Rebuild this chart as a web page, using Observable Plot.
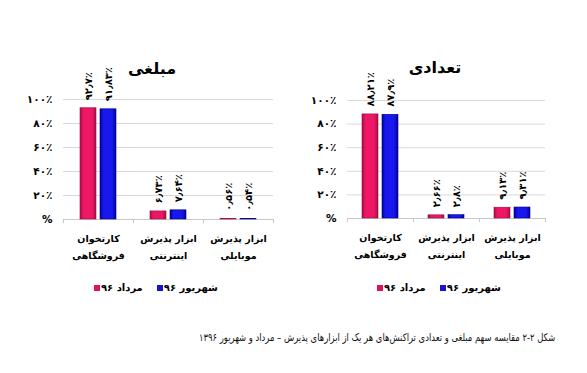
<!DOCTYPE html>
<html>
<head>
<meta charset="utf-8">
<script src="https://cdn.jsdelivr.net/npm/d3@7"></script>
<script src="https://cdn.jsdelivr.net/npm/@observablehq/plot@0.6"></script>
<style>
  body { margin: 0; background: #fff; font-family: "DejaVu Sans", sans-serif; }
  #wrap { position: relative; width: 587px; height: 373px; overflow: hidden; background: #fff; }
  .panel { position: absolute; top: 0; }
  .title { position: absolute; font-weight: bold; font-size: 16px; transform: translateX(-50%); white-space: nowrap; color: #000; direction: rtl; }
  .legend { position: absolute; display: flex; align-items: center; font-size: 10px; font-weight: bold; color: #000; white-space: nowrap; }
  .legend .sw { width: 6px; height: 6px; margin-right: 1px; }
  .legend .item { display: flex; align-items: center; margin-right: 14px; }
  .caption { position: absolute; top: 331px; right: 32px; font-size: 10.5px; direction: rtl; white-space: nowrap; color: #111; transform: scaleX(0.8); transform-origin: right center; }
</style>
</head>
<body>
<div id="wrap"></div>
<script>
// ---- data ----
const categories = ["کارتخوان فروشگاهی", "ابزار پذیرش اینترنتی", "ابزار پذیرش موبایلی"];
const categoryLines = ["کارتخوان\nفروشگاهی", "ابزار پذیرش\nاینترنتی", "ابزار پذیرش\nموبایلی"];
const series = ["مرداد ۹۶", "شهریور ۹۶"];
const seriesColors = ["#E0115F", "#1414D2"];
const amountMordad = [92.7, 6.73, 0.56];
const amountShahrivar = [91.83, 7.64, 0.54];
const countMordad = [88.21, 2.66, 9.13];
const countShahrivar = [87.9, 2.8, 9.31];
const yTicks = [0, 20, 40, 60, 80, 100];
const panelTitles = ["مبلغی", "تعدادی"];
const captionText = "شکل ۲-۲ مقایسه سهم مبلغی و تعدادی تراکنش‌های هر یک از ابزارهای پذیرش – مرداد و شهریور ۱۳۹۶";

// ---- helpers ----
const faDigits = "۰۱۲۳۴۵۶۷۸۹";
const toFa = v => String(v).replace(/\d/g, d => faDigits[d]).replace(".", "٫");
const valueFmt = v => toFa(v) + "٪";
const yFmt = v => v === 0 ? "%" : toFa(v) + "٪";
const lineOf = c => categoryLines[categories.indexOf(c)];

function gradientDefs(id) {
  return () => {
    const ns = "http://www.w3.org/2000/svg";
    const defs = document.createElementNS(ns, "defs");
    defs.innerHTML = `
      <linearGradient id="${id}p" x1="0" x2="1" y1="0" y2="0">
        <stop offset="0" stop-color="#A80C45"/><stop offset="0.22" stop-color="#EE1766"/>
        <stop offset="0.75" stop-color="#EE1766"/><stop offset="1" stop-color="#A80C45"/>
      </linearGradient>
      <linearGradient id="${id}b" x1="0" x2="1" y1="0" y2="0">
        <stop offset="0" stop-color="#00009A"/><stop offset="0.22" stop-color="#1818EE"/>
        <stop offset="0.75" stop-color="#1818EE"/><stop offset="1" stop-color="#00009A"/>
      </linearGradient>`;
    return defs;
  };
}

function panel({id, first, second, width, ml, mr, mt, mb, height}) {
  const d0 = categories.map((c, i) => ({cat: c, v: first[i]}));
  const d1 = categories.map((c, i) => ({cat: c, v: second[i]}));
  const bw = (width - ml - mr) / categories.length;
  const inset = (bw - 16) / 2;
  const off = 10;
  const labelOpts = {x: "cat", y: "v", text: d => valueFmt(d.v), rotate: -90, textAnchor: "start", dy: -8, fontWeight: "bold", fontSize: 10, fill: "#000"};
  return Plot.plot({
    width, height,
    marginLeft: ml, marginRight: mr, marginTop: mt, marginBottom: mb,
    style: {fontFamily: "DejaVu Sans, sans-serif", fontSize: "10.5px", fontWeight: "bold", color: "#000", background: "transparent"},
    x: {domain: categories, padding: 0, round: false, label: null},
    y: {domain: [0, 100], label: null},
    marks: [
      gradientDefs(id),
      Plot.gridY(yTicks, {stroke: "#d9d9d9", strokeOpacity: 1}),
      Plot.ruleY([0], {stroke: "#c8c8c8"}),
      Plot.ruleX(categories, {x: d => d, y1: 0, y2: -3.5, dx: -bw / 2, stroke: "#c8c8c8"}),
      Plot.ruleX(categories.slice(-1), {x: d => d, y1: 0, y2: -3.5, dx: bw / 2, stroke: "#c8c8c8"}),
      Plot.barY(d0, {x: "cat", y: "v", fill: `url(#${id}p)`, stroke: "#9A0A3E", strokeWidth: 0.6, insetLeft: inset, insetRight: inset, dx: -off}),
      Plot.barY(d1, {x: "cat", y: "v", fill: `url(#${id}b)`, stroke: "#000088", strokeWidth: 0.6, insetLeft: inset, insetRight: inset, dx: off}),
      Plot.text(d0, {...labelOpts, dx: -off}),
      Plot.text(d1, {...labelOpts, dx: off}),
      Plot.axisY(yTicks, {tickSize: 0, tickPadding: 11, tickFormat: yFmt, fontSize: 10.5, fontWeight: "bold", label: null}),
      Plot.axisX({tickSize: 0, tickPadding: 11, tickFormat: lineOf, lineHeight: 1.75, fontSize: 9.5, fontWeight: "bold", label: null})
    ]
  });
}

const wrap = document.getElementById("wrap");

const p1 = panel({id: "a", first: amountMordad, second: amountShahrivar, width: 293, ml: 63, mr: 20, mt: 99, mb: 51, height: 270});
p1.classList.add("panel"); p1.style.left = "0px";
wrap.appendChild(p1);

const p2 = panel({id: "c", first: countMordad, second: countShahrivar, width: 297, ml: 57, mr: 42, mt: 100, mb: 52, height: 270});
p2.classList.add("panel"); p2.style.left = "290px";
wrap.appendChild(p2);

// titles
[[panelTitles[0], 152, 59], [panelTitles[1], 435, 58]].forEach(([t, x, y]) => {
  const el = document.createElement("div");
  el.className = "title"; el.textContent = t;
  el.style.left = x + "px"; el.style.top = y + "px";
  wrap.appendChild(el);
});

// legends
[[94, 282], [377, 282]].forEach(([x, y]) => {
  const lg = document.createElement("div");
  lg.className = "legend";
  lg.style.left = x + "px"; lg.style.top = y + "px";
  series.forEach((s, i) => {
    const it = document.createElement("div"); it.className = "item";
    const sw = document.createElement("div"); sw.className = "sw"; sw.style.background = seriesColors[i];
    const tx = document.createElement("span"); tx.textContent = s; tx.dir = "rtl";
    it.appendChild(sw); it.appendChild(tx); lg.appendChild(it);
  });
  wrap.appendChild(lg);
});

// caption
const cap = document.createElement("div");
cap.className = "caption"; cap.textContent = captionText;
wrap.appendChild(cap);
</script>
</body>
</html>
